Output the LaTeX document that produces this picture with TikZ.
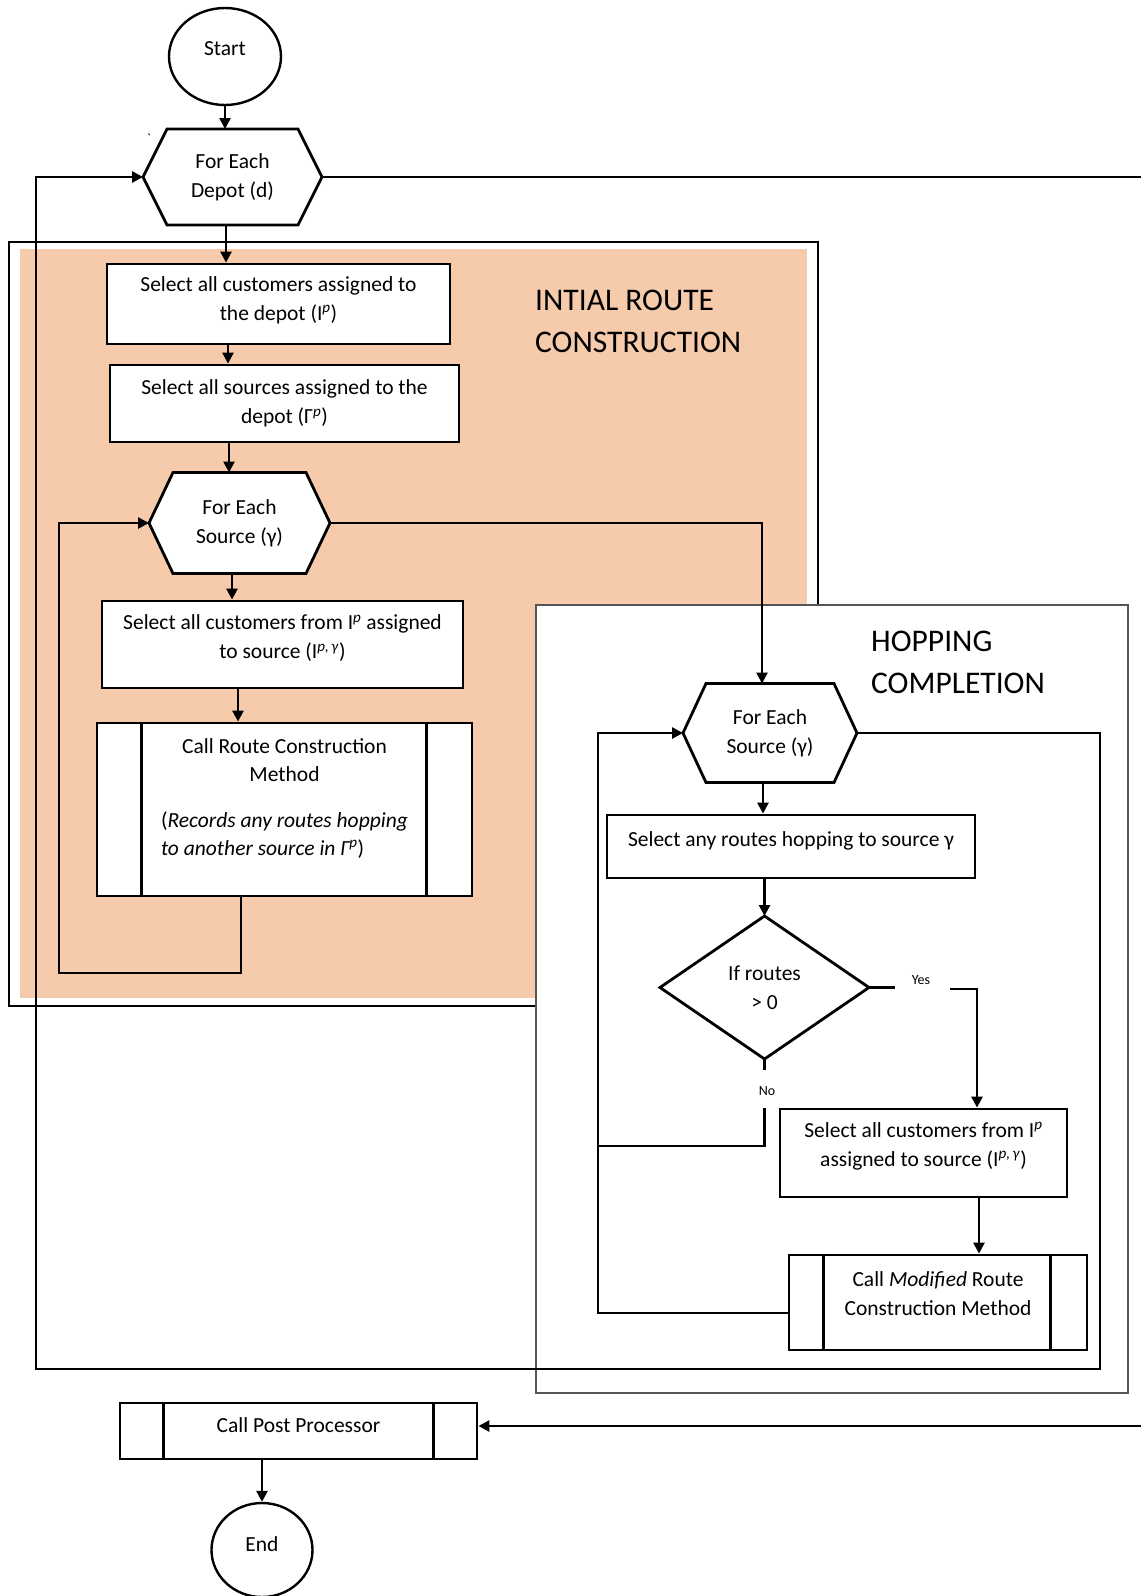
\documentclass[tikz,border=0pt]{standalone}
\usepackage{fontspec}
\setmainfont{Carlito}
\usetikzlibrary{arrows.meta,shapes.geometric}
\definecolor{peach}{RGB}{246,203,172}
\definecolor{framegray}{RGB}{85,85,85}
\pgfdeclarelayer{groups}
\pgfdeclarelayer{shapes}
\pgfsetlayers{groups,shapes,main}

% hexagon outline around a (borderless) frame node: #1 name, #2 chamfer
\newcommand{\hexoutline}[2]{%
  \begin{pgfonlayer}{shapes}
    \draw[outline] (#1.west) -- ([shift={(#2,0)}]#1.north west)
      -- ([shift={(-#2,0)}]#1.north east) -- (#1.east)
      -- ([shift={(-#2,0)}]#1.south east) -- ([shift={(#2,0)}]#1.south west) -- cycle;
  \end{pgfonlayer}}
% diamond outline around a frame node
\newcommand{\rhombusoutline}[1]{%
  \begin{pgfonlayer}{shapes}
    \draw[outline] (#1.west) -- (#1.north) -- (#1.east) -- (#1.south) -- cycle;
  \end{pgfonlayer}}
% side bars of a predefined-process box: #1 name, #2 left inset, #3 right inset
\newcommand{\sidebars}[3]{%
  \draw[edge] ([shift={(#2,0)}]#1.north west) -- ([shift={(#2,0)}]#1.south west);
  \draw[edge] ([shift={(-#3,0)}]#1.north east) -- ([shift={(-#3,0)}]#1.south east);}
% empty trailing line that sets the text a little higher in its box
\newcommand{\liftby}[1]{\\[#1]\mbox{}}

\begin{document}
\begin{tikzpicture}[x=1pt,y=-1pt,
  txt/.style={font=\fontsize{21.5}{29}\selectfont, align=center, inner sep=0pt},
  proc/.style={txt, draw, line width=2.8pt, fill=white, rectangle},
  frame/.style={txt, rectangle, outer sep=0pt},
  outline/.style={line width=2.8pt, fill=white, line join=miter},
  edge/.style={line width=2.6pt},
  arr/.style={edge, -{Triangle[length=11pt,width=11pt]}},
  term/.style={txt, draw, ellipse, line width=2.4pt, fill=white},
  title/.style={font=\fontsize{31.5}{42}\selectfont, align=left, inner sep=0pt, anchor=west},
  lbl/.style={font=\fontsize{14}{14}\selectfont, inner sep=0pt},
]
\useasboundingbox (0,0) rectangle (1141,1596);

% ---------- group frames ----------
\begin{pgfonlayer}{groups}
  \draw[line width=2.2pt] (9,242) rectangle (818,1006);
  \fill[peach] (20,249) rectangle (807,998);
  \draw[framegray, line width=1.3pt, fill=white] (536,605) rectangle (1128,1393);
\end{pgfonlayer}

\node[title] (t1) at (535,321) {INTIAL ROUTE\\CONSTRUCTION};
\node[title] (t2) at (871,662) {HOPPING\\COMPLETION};

% ---------- nodes ----------
\node[term, minimum width=112pt, minimum height=97pt] (start) at (225,56.5) {Start\liftby{-13pt}};

\node[frame, minimum width=179pt, minimum height=96pt] (depot) at (232.5,177) {For Each\\Depot (d)};
\hexoutline{depot}{24}
\node[lbl] (tick) at (149,139) {\textasciigrave};

\node[proc, minimum width=343pt, minimum height=80pt] (box1) at (278.5,304)
  {Select all customers assigned to\\the depot (I\textsuperscript{\textit{p}})\liftby{-18pt}};
\node[proc, minimum width=349pt, minimum height=77pt] (box2) at (284.5,403.5)
  {Select all sources assigned to the\\depot (Γ\textsuperscript{\textit{p}})};

\node[frame, minimum width=181pt, minimum height=101pt] (src1) at (239.5,523) {For Each\\Source (γ)};
\hexoutline{src1}{24}

\node[proc, minimum width=361pt, minimum height=87pt] (box3) at (282.5,644.5)
  {Select all customers from I\textsuperscript{\textit{p}} assigned\\to source (I\textsuperscript{\textit{p,\,γ}})\liftby{-14pt}};

\node[proc, minimum width=375pt, minimum height=173pt, font=\fontsize{21.5}{28}\selectfont] (box4) at (284.5,809.5)
  {Call Route Construction\\Method\\[18pt]\begin{tabular}[t]{@{}l@{}}(\textit{Records any routes hopping}\\\textit{to another source in Γ\textsuperscript{p}})\end{tabular}\liftby{16pt}};
\sidebars{box4}{46}{47}

\node[frame, minimum width=174pt, minimum height=99pt] (hsrc) at (770,733) {For Each\\Source (γ)};
\hexoutline{hsrc}{23}

\node[proc, minimum width=368pt, minimum height=63pt] (box5) at (791,846.5)
  {Select any routes hopping to source γ\liftby{-14pt}};

\node[frame, minimum width=209pt, minimum height=143pt] (cond) at (764.5,987.5) {If routes\\> 0};
\rhombusoutline{cond}

\node[proc, minimum width=287pt, minimum height=88pt] (box6) at (923.5,1153)
  {Select all customers from I\textsuperscript{\textit{p}}\\assigned to source (I\textsuperscript{\textit{p,\,γ}})\liftby{-12pt}};

\node[proc, minimum width=298pt, minimum height=95pt] (box7) at (938,1302.5)
  {Call \textit{Modified} Route\\Construction Method\liftby{-11pt}};
\sidebars{box7}{36}{38}

\node[proc, minimum width=357pt, minimum height=56pt] (post) at (298.5,1431) {Call Post Processor\liftby{-17pt}};
\sidebars{post}{45}{45}

\node[term, minimum width=101pt, minimum height=94pt] (endn) at (262,1550) {End\liftby{-17pt}};

\node[lbl] (yes) at (921,980) {Yes};
\node[lbl] (no) at (767,1091) {No};

% ---------- connector bend points ----------
\coordinate (xa) at (226,0);
\coordinate (xb) at (228,0);
\coordinate (xc) at (229,0);
\coordinate (xd) at (232,0);
\coordinate (xe) at (238,0);
\coordinate (xf) at (763,0);
\coordinate (xh) at (979,0);
\coordinate (l1b) at (241,973);
\coordinate (l1a) at (59,973);
\coordinate (h1) at (762,523);
\coordinate (outR) at (1100,1369);
\coordinate (outL) at (36,1369);
\coordinate (edgeA) at (1141,177);
\coordinate (edgeB) at (1141,1426);
\coordinate (yesA) at (895,986);
\coordinate (yesB) at (950,989);
\coordinate (yesC) at (977,989);
\coordinate (noA) at (766,1070);
\coordinate (noB) at (766,1108);
\coordinate (noC) at (598,1146);
\coordinate (hl) at (598,1313);

% ---------- connectors ----------
\draw[arr] (start.south) -- (start.south |- depot.north);
\draw[edge] (depot.east) -- (edgeA);
\draw[arr] (depot.south -| xa) -- (box1.north -| xa);
\draw[arr] (box1.south -| xb) -- (box2.north -| xb);
\draw[arr] (box2.south -| xc) -- (src1.north -| xc);
\draw[arr] (src1.south -| xd) -- (box3.north -| xd);
\draw[arr] (box3.south -| xe) -- (box4.north -| xe);
\draw[arr] (box4.south -| l1b) -- (l1b) -- (l1a) |- (src1.west);
\draw[arr] (src1.east) -- (src1.east -| h1) -- (h1 |- hsrc.north);
\draw[arr] (hsrc.south -| xf) -- (box5.north -| xf);
\draw[arr] (box5.south -| cond.north) -- (cond.north);
\draw[edge] (cond.east) -- (cond.east -| yesA);
\draw[arr] (yesB) -- (yesC) -- (yesC |- box6.north);
\draw[edge] (cond.south) -- (cond.south |- noA);
\draw[edge] (cond.south |- noB) |- (noC);
\draw[arr] (box6.south -| xh) -- (box7.north -| xh);
\draw[arr] (box7.west |- hl) -- (hl) |- (hsrc.west);
\draw[arr] (hsrc.east) -| (outR) -- (outL) |- (depot.west);
\draw[arr] (edgeB) -- (edgeB -| post.east);
\draw[arr] (post.south -| endn.north) -- (endn.north);
\end{tikzpicture}
\end{document}
